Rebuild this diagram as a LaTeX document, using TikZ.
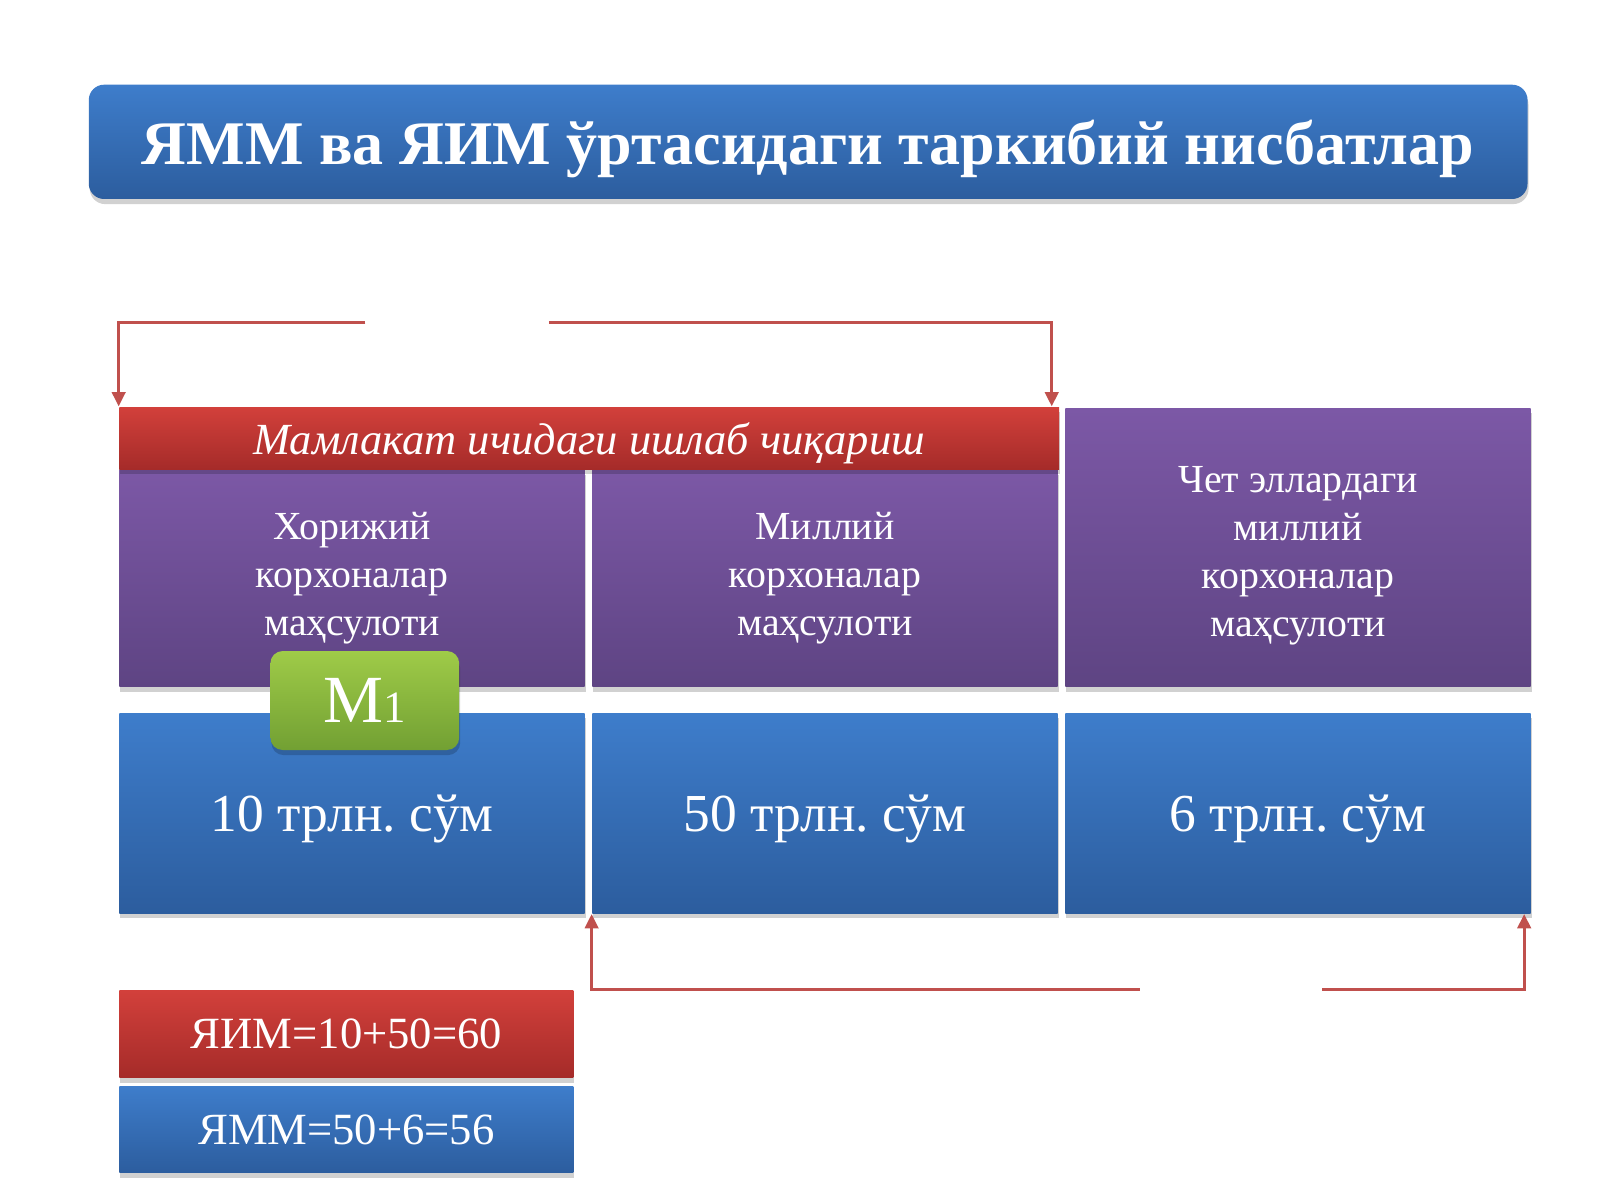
\documentclass[tikz,border=0pt]{standalone}
\usepackage{fontspec}
\setmainfont{Liberation Serif}
\usetikzlibrary{shadows,arrows.meta}
\definecolor{blueTop}{HTML}{3E7DCB}
\definecolor{blueBot}{HTML}{2C5D9E}
\definecolor{purpleTop}{HTML}{7C58A6}
\definecolor{purpleBot}{HTML}{5E4483}
\definecolor{redTop}{HTML}{D2403B}
\definecolor{redBot}{HTML}{A52B29}
\definecolor{greenTop}{HTML}{9FCB48}
\definecolor{greenBot}{HTML}{72A033}
\definecolor{linkred}{HTML}{C0504D}
\frenchspacing
\begin{document}
\begin{tikzpicture}[x=0.1mm, y=-0.1mm, >={Triangle[width=1.3mm,length=1.4mm]},
boxshadow/.style={drop shadow={shadow xshift=0.1mm, shadow yshift=-0.5mm, opacity=0.18, fill=black}},
titlebox/.style={rectangle, rounded corners=1.5mm, top color=blueTop, bottom color=blueBot, text=white, minimum width=141mm, minimum height=11.2mm, text depth=0pt, font=\fontsize{17.3}{21}\selectfont\bfseries, boxshadow},
redbar/.style={rectangle, top color=redTop, bottom color=redBot, text=white, minimum width=92.1mm, minimum height=6.1mm, text depth=0pt, font=\fontsize{12.4}{15}\selectfont\itshape, boxshadow},
purplebox/.style={rectangle, top color=purpleTop, bottom color=purpleBot, text=white, minimum width=45.6mm, align=center, font=\fontsize{11.1}{13.4}\selectfont, boxshadow},
valuebox/.style={rectangle, top color=blueTop, bottom color=blueBot, text=white, minimum width=45.6mm, minimum height=19.6mm, text depth=0pt, font=\fontsize{14.9}{18}\selectfont, boxshadow},
mbox/.style={rectangle, rounded corners=1.2mm, top color=greenTop, bottom color=greenBot, text=white, minimum width=18.5mm, minimum height=9.7mm, font=\fontsize{18.8}{22}\selectfont, boxshadow},
sumbox/.style={rectangle, text=white, minimum width=44.5mm, minimum height=8.5mm, font=\fontsize{12.45}{15}\selectfont, boxshadow},
link/.style={draw=linkred, line width=0.9pt, ->},
]
\useasboundingbox (0,0) rectangle (1568,1176);

%Title
\node[titlebox] (title) at (792,139) {ЯММ ва ЯИМ ўртасидаги таркибий нисбатлар};

%Products
\node[purplebox, minimum height=21.3mm] (prod1) at (345,566.5) {Хорижий\\корхоналар\\маҳсулоти};
\node[purplebox, minimum height=21.3mm] (prod2) at (808.5,566.5) {Миллий\\корхоналар\\маҳсулоти};
\node[purplebox, minimum height=27.3mm] (prod3) at (1272,536.5) {\rule{0pt}{4.2mm}Чет эллардаги\\миллий\\корхоналар\\маҳсулоти};
\node[redbar] (domestic) at (577.5,429.5) {Мамлакат ичидаги ишлаб чиқариш};

%Values
\node[valuebox] (val1) at (345,797) {10 трлн. сўм};
\node[valuebox] (val2) at (808.5,797) {50 трлн. сўм};
\node[valuebox] (val3) at (1272,797) {6 трлн. сўм};
\node[mbox] (m1) at (357.5,686.5) {M{\fontsize{12.5}{14}\selectfont 1}};

%Sums
\node[sumbox, top color=redTop, bottom color=redBot] (gdp) at (339.5,1013.5) {ЯИМ=10+50=60};
\node[sumbox, top color=blueTop, bottom color=blueBot] (gnp) at (339.5,1107) {ЯММ=50+6=56};

%Lines
\coordinate (topL) at (358,316);
\coordinate (topR) at (538,316);
\coordinate (botL) at (1117,970);
\coordinate (botR) at (1296,970);
\draw[link] (topL) -| (domestic.north west);
\draw[link] (topR) -| ([xshift=-0.8mm]domestic.north east);
\draw[link] (botL) -| (val2.south west);
\draw[link] (botR) -| ([xshift=-0.7mm]val3.south east);
\end{tikzpicture}
\end{document}
